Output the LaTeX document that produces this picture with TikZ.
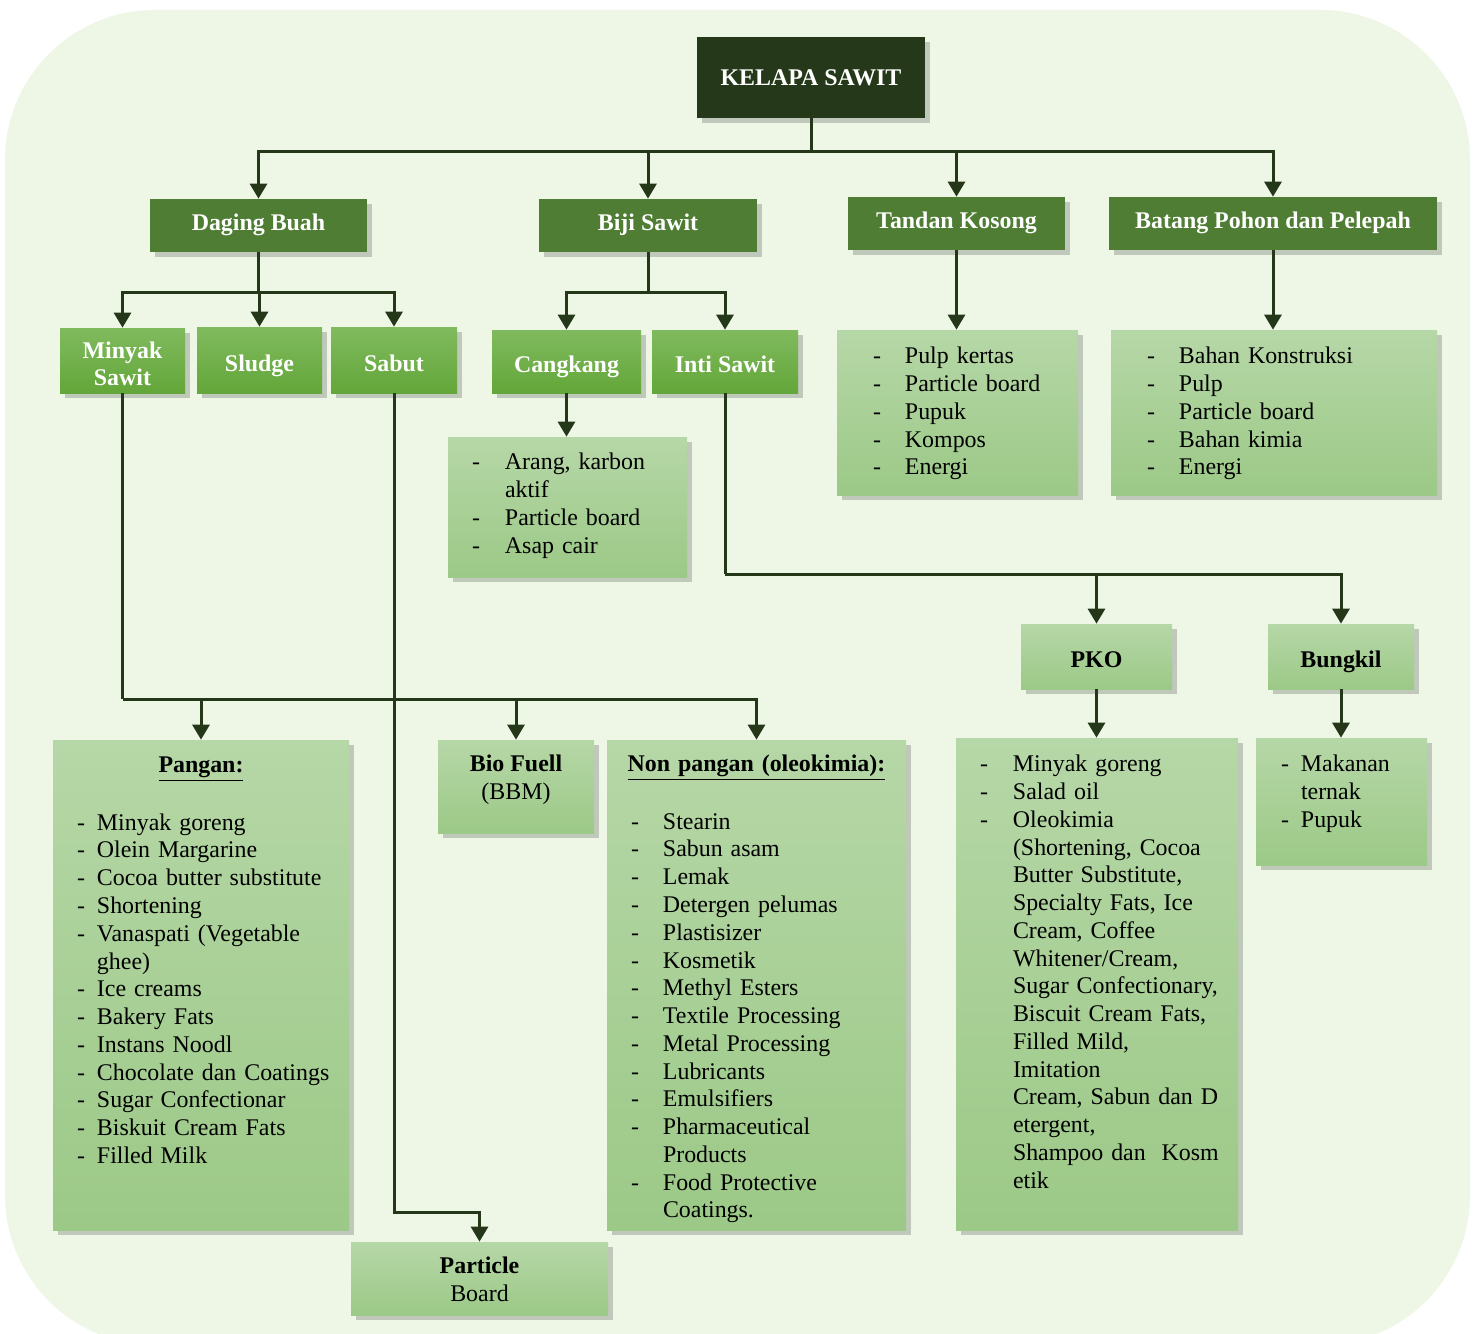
\documentclass[tikz,border=0pt]{standalone}
\usepackage{fontspec}
\setmainfont{Liberation Serif}
\usetikzlibrary{arrows.meta,shadows}

\definecolor{bgpale}{RGB}{238,247,230}
\definecolor{rootgreen}{RGB}{37,56,25}
\definecolor{midgreen}{RGB}{79,125,51}
\definecolor{subtop}{RGB}{128,186,94}
\definecolor{subbot}{RGB}{99,166,57}
\definecolor{paletop}{RGB}{182,215,167}
\definecolor{palebot}{RGB}{156,201,135}
\definecolor{linegreen}{RGB}{36,56,25}

\newlength\upx
\setlength\upx{0.2mm}
\newcommand\basefont{\fontsize{13.6}{15.8}\selectfont}
\newcommand\itm[2][32]{\par\hangindent=#1\upx\hangafter=1\noindent\strut\makebox[#1\upx][l]{-}#2\par}
\newcommand\ttl[2]{\noindent\strut\makebox[#1\upx]{\textbf{\underline{#2}}}\par\noindent\strut}

\tikzset{
  sz/.style 2 args={minimum width=#1*0.2mm, minimum height=#2*0.2mm},
  boxshadow/.style={drop shadow={shadow xshift=1mm, shadow yshift=-1mm, opacity=0.28, fill=black!70}},
  rootbox/.style={boxshadow, fill=rootgreen, text=white, font=\basefont\bfseries, inner sep=0pt},
  topbox/.style={boxshadow, fill=midgreen, text=white, font=\basefont\bfseries, inner sep=0pt,
    text height=12pt, text depth=6pt},
  subbox/.style={boxshadow, top color=subtop, bottom color=subbot, text=white, font=\basefont\bfseries,
    align=center, inner sep=0pt, text height=17pt, text depth=4pt},
  palebox/.style={boxshadow, top color=paletop, bottom color=palebot, font=\basefont, align=center, inner sep=0pt},
  lst/.style={anchor=north west, inner sep=0pt, text width=#1*0.2mm, font=\basefont, execute at begin node=\raggedright},
  con/.style={draw=linegreen, line width=0.6mm},
  arr/.style={con, -{Triangle[width=3.4mm,length=3mm]}}
}

\begin{document}
\begin{tikzpicture}[x=0.2mm, y=-0.2mm]
  \useasboundingbox (0,0) rectangle (1475,1334);
  \fill[white] (0,0) rectangle (1475,1334);
  \fill[bgpale, rounded corners=30mm] (5,10) rectangle (1470,1345);

  \node[rootbox, sz={228}{81}] (root) at (811,77.5) {KELAPA SAWIT};

  \node[topbox, sz={217}{53}] (daging) at (258.5,225.5) {Daging Buah};
  \node[topbox, sz={218}{53}] (biji) at (648,225.5) {Biji Sawit};
  \node[topbox, sz={217}{53}] (tandan) at (956.5,223.5) {Tandan Kosong};
  \node[topbox, sz={328}{53}] (batang) at (1273,223.5) {Batang Pohon dan Pelepah};

  \node[subbox, sz={125}{65}, text height=29pt, text depth=0pt] (minyak) at (122.5,360.5) {Minyak\\Sawit};
  \node[subbox, sz={125}{66}] (sludge) at (259.5,360) {Sludge};
  \node[subbox, sz={126}{66}] (sabut) at (394,360) {Sabut};
  \node[subbox, sz={149}{63}] (cangkang) at (566.5,361.5) {Cangkang};
  \node[subbox, sz={146}{63}] (inti) at (725,361.5) {Inti Sawit};

  \node[palebox, sz={239}{140}] (cangkanglist) at (567.5,507) {};
  \node[lst=215] (cangkanglist-t) at ([shift={(24,5)}]cangkanglist.north west) {%
    \itm[33]{Arang, karbon\newline aktif}
    \itm[33]{Particle board}
    \itm[33]{Asap cair}};

  \node[palebox, sz={241}{165}] (tandanlist) at (957.5,412.5) {};
  \node[lst=205] (tandanlist-t) at ([shift={(36,6)}]tandanlist.north west) {%
    \itm{Pulp kertas}
    \itm{Particle board}
    \itm{Pupuk}
    \itm{Kompos}
    \itm{Energi}};

  \node[palebox, sz={326}{165}] (batanglist) at (1274,412.5) {};
  \node[lst=290] (batanglist-t) at ([shift={(36,6)}]batanglist.north west) {%
    \itm{Bahan Konstruksi}
    \itm{Pulp}
    \itm{Particle board}
    \itm{Bahan kimia}
    \itm{Energi}};

  \node[palebox, sz={151}{65}, font=\basefont\bfseries, text height=17pt, text depth=4pt] (pko) at (1096.5,656.5) {PKO};
  \node[palebox, sz={146}{65}, font=\basefont\bfseries, text height=17pt, text depth=4pt] (bungkil) at (1341,656.5) {Bungkil};

  \node[palebox, sz={282}{492}] (pkolist) at (1097,984) {};
  \node[lst=258] (pkolist-t) at ([shift={(24,6)}]pkolist.north west) {%
    \itm[33]{Minyak goreng}
    \itm[33]{Salad oil}
    \itm[33]{Oleokimia\newline (Shortening, Cocoa\newline Butter Substitute,\newline
      Specialty Fats, Ice\newline Cream, Coffee\newline Whitener/Cream,\newline
      Sugar Confectionary,\newline Biscuit Cream Fats,\newline Filled Mild,\newline
      Imitation\newline Cream, Sabun dan D\newline etergent,\newline
      Shampoo dan\ \ Kosm\newline etik}};

  \node[palebox, sz={171}{127}] (bungkillist) at (1341.5,801.5) {};
  \node[lst=146] (bungkillist-t) at ([shift={(25,6)}]bungkillist.north west) {%
    \itm[20]{Makanan\newline ternak}
    \itm[20]{Pupuk}};

  \node[palebox, sz={296}{490}] (pangan) at (201,985) {};
  \node[lst=272] (pangan-t) at ([shift={(24,13)}]pangan.north west) {%
    \ttl{248}{Pangan:}
    \itm[20]{Minyak goreng}
    \itm[20]{Olein Margarine}
    \itm[20]{Cocoa butter substitute}
    \itm[20]{Shortening}
    \itm[20]{Vanaspati (Vegetable\newline ghee)}
    \itm[20]{Ice creams}
    \itm[20]{Bakery Fats}
    \itm[20]{Instans Noodl}
    \itm[20]{Chocolate dan Coatings}
    \itm[20]{Sugar Confectionar}
    \itm[20]{Biskuit Cream Fats}
    \itm[20]{Filled Milk}};

  \node[palebox, sz={156}{93}] (biofuel) at (516,786.5) {};
  \node[anchor=north, inner sep=0pt, align=center, font=\basefont] (biofuel-t)
    at ([shift={(0,12)}]biofuel.north) {\strut\textbf{Bio Fuell}\\(BBM)};

  \node[palebox, sz={299}{490}] (nonpangan) at (756.5,985) {};
  \node[lst=275] (nonpangan-t) at ([shift={(24,12)}]nonpangan.north west) {%
    \ttl{251}{Non pangan (oleokimia):}
    \itm{Stearin}
    \itm{Sabun asam}
    \itm{Lemak}
    \itm{Detergen pelumas}
    \itm{Plastisizer}
    \itm{Kosmetik}
    \itm{Methyl Esters}
    \itm{Textile Processing}
    \itm{Metal Processing}
    \itm{Lubricants}
    \itm{Emulsifiers}
    \itm{Pharmaceutical\newline Products}
    \itm{Food Protective\newline Coatings.}};

  \node[palebox, sz={257}{73}, text height=28pt, text depth=2pt] (particle) at (479.5,1278.5) {\textbf{Particle}\\Board};

  \coordinate (rootbus) at (811,152);
  \draw[con] (root) -- (rootbus);
  \foreach \n in {daging,biji,tandan,batang}
    \draw[arr] (rootbus) -| (\n.north);

  \coordinate (dagingbus) at (258.5,292);
  \draw[con] (daging) -- (dagingbus);
  \foreach \n in {minyak,sludge,sabut}
    \draw[arr] (dagingbus) -| (\n.north);

  \coordinate (bijibus) at (648,292);
  \draw[con] (biji) -- (bijibus);
  \foreach \n in {cangkang,inti}
    \draw[arr] (bijibus) -| (\n.north);

  \draw[arr] (cangkang.south) -- (cangkang.south |- cangkanglist.north);
  \draw[arr] (tandan.south) -- (tandan.south |- tandanlist.north);
  \draw[arr] (batang.south) -- (batang.south |- batanglist.north);

  \coordinate (intibus) at (725,574);
  \draw[con] (inti) -- (intibus);
  \foreach \n in {pko,bungkil}
    \draw[arr] (intibus) -| (\n.north);
  \draw[arr] (pko.south) -- (pko.south |- pkolist.north);
  \draw[arr] (bungkil.south) -- (bungkil.south |- bungkillist.north);

  \coordinate (minyakbus) at (122.5,699);
  \draw[con] (minyak) -- (minyakbus);
  \foreach \n in {pangan,biofuel,nonpangan}
    \draw[arr] (minyakbus) -| (\n.north);

  \coordinate (sabutbend) at (394,1212);
  \draw[arr] (sabut) -- (sabutbend) -| (particle.north);
\end{tikzpicture}
\end{document}
